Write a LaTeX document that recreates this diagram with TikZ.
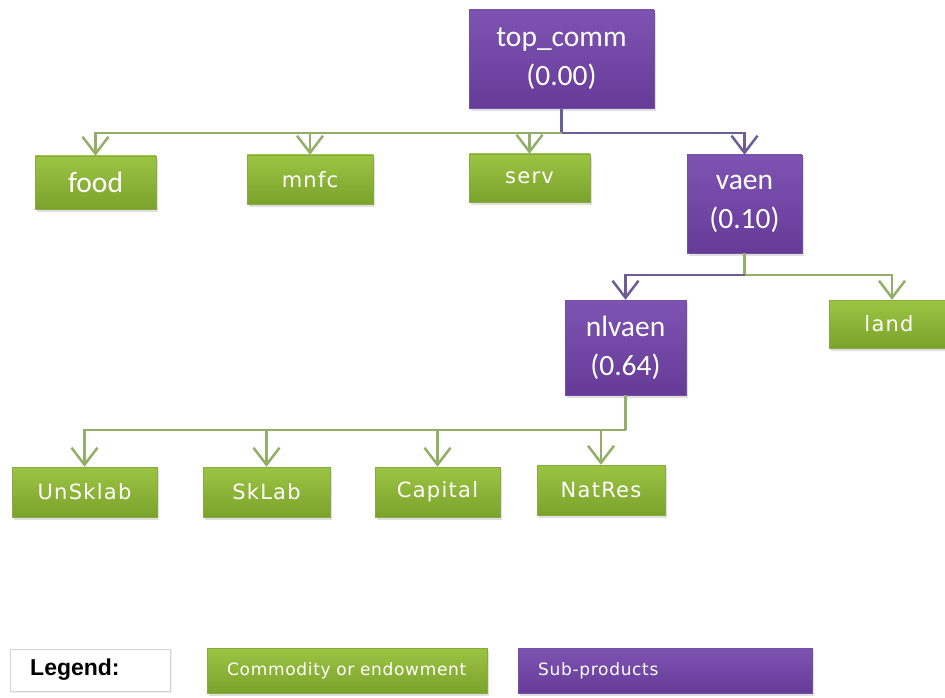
\documentclass[tikz,border=0pt]{standalone}
\usepackage{fontspec}
\setmainfont{Carlito}
\newfontfamily\vfont[LetterSpace=6]{DejaVu Sans}
\newfontfamily\legfont[LetterSpace=4]{DejaVu Sans}
\newfontfamily\lgbold{Liberation Sans}
\usetikzlibrary{arrows.meta,shadows}
\definecolor{gtop}{HTML}{9CC443}
\definecolor{gbot}{HTML}{7BA22C}
\definecolor{ptop}{HTML}{7E54B2}
\definecolor{pbot}{HTML}{663B98}
\definecolor{gln}{HTML}{93AE66}
\definecolor{pln}{HTML}{6E5C96}
\tikzset{
  box/.style={inner sep=0pt, text=white, align=center,
    drop shadow={opacity=0.25, shadow xshift=2pt, shadow yshift=-3pt}},
  gbox/.style={box, draw=gbot!90!white, top color=gtop, bottom color=gbot},
  pbox/.style={box, draw=pbot!90!white, top color=ptop, bottom color=pbot},
  cal/.style={font=\fontsize{29.5}{39}\selectfont},
  ver/.style={font=\vfont\fontsize{21}{24}\selectfont},
  tip/.style={-{Straight Barb[length=17pt,width=26pt]}},
  gline/.style={draw=gln, line width=2.5pt, tip},
  pline/.style={draw=pln, line width=2.5pt, tip},
}
\begin{document}
\begin{tikzpicture}[x=1pt,y=-1pt]
\useasboundingbox (0,0) rectangle (945,698);
% nodes
\node[pbox,cal,minimum width=185pt,minimum height=98pt] (top) at (561.5,59) {top\_comm\\(0.00)};
\node[gbox,cal,minimum width=121pt,minimum height=53pt] (food) at (95.5,182.5) {food};
\node[gbox,ver,minimum width=126pt,minimum height=49pt] (mnfc) at (310,179.5) {mnfc};
\node[gbox,ver,minimum width=121pt,minimum height=48pt] (serv) at (529.5,178) {serv};
\node[pbox,cal,minimum width=115pt,minimum height=98pt] (vaen) at (744.5,204) {vaen\\(0.10)};
\node[pbox,cal,minimum width=121pt,minimum height=95pt] (nlvaen) at (625.5,347.5) {nlvaen\\(0.64)};
\node[gbox,ver,minimum width=120pt,minimum height=48pt] (land) at (889,324) {land};
\node[gbox,ver,minimum width=145pt,minimum height=50pt] (unsk) at (84.5,492) {UnSklab};
\node[gbox,ver,minimum width=127pt,minimum height=50pt] (sklab) at (266.5,492) {SkLab};
\node[gbox,ver,minimum width=125pt,minimum height=50pt] (capital) at (437.5,492) {Capital};
\node[gbox,ver,minimum width=128pt,minimum height=50pt] (natres) at (601,490) {NatRes};
% legend
\node[draw=black!18, fill=white, minimum width=160pt, minimum height=42pt, inner sep=0pt,
  drop shadow={opacity=0.12, shadow xshift=2pt, shadow yshift=-2pt},
  font=\lgbold\bfseries\fontsize{23}{26}\selectfont, anchor=west, text width=120pt, align=left] (leg) at (10,670) {Legend:};
\node[gbox, minimum width=280pt, minimum height=45pt, anchor=west, text width=240pt, align=left,
  font=\legfont\fontsize{17}{19}\selectfont] (legc) at (207,670.5) {Commodity or endowment};
\node[pbox, minimum width=294pt, minimum height=45pt, anchor=west, text width=254pt, align=left,
  font=\legfont\fontsize{17}{19}\selectfont] (legs) at (518,670.5) {Sub-products};
% connectors
\coordinate (j1) at (top.south |- 0,133);
\draw[pline,-] (top.south) -- (j1);
\draw[gline] (j1) -| (food.north);
\draw[gline] (j1) -| (mnfc.north);
\draw[gline] (j1) -| (serv.north);
\draw[pline] (j1) -| (vaen.north);
\coordinate (j2) at (vaen.south |- 0,275);
\draw[gline,-] (vaen.south) -- (j2);
\draw[pline] (j2) -| (nlvaen.north);
\draw[gline] (j2) -| ([xshift=3pt]land.north);
\coordinate (j3) at (nlvaen.south |- 0,430);
\draw[gline,-] (nlvaen.south) -- (j3);
\draw[gline] (j3) -| (unsk.north);
\draw[gline] (j3) -| (sklab.north);
\draw[gline] (j3) -| (capital.north);
\draw[gline] (j3) -| (natres.north);
\end{tikzpicture}
\end{document}
